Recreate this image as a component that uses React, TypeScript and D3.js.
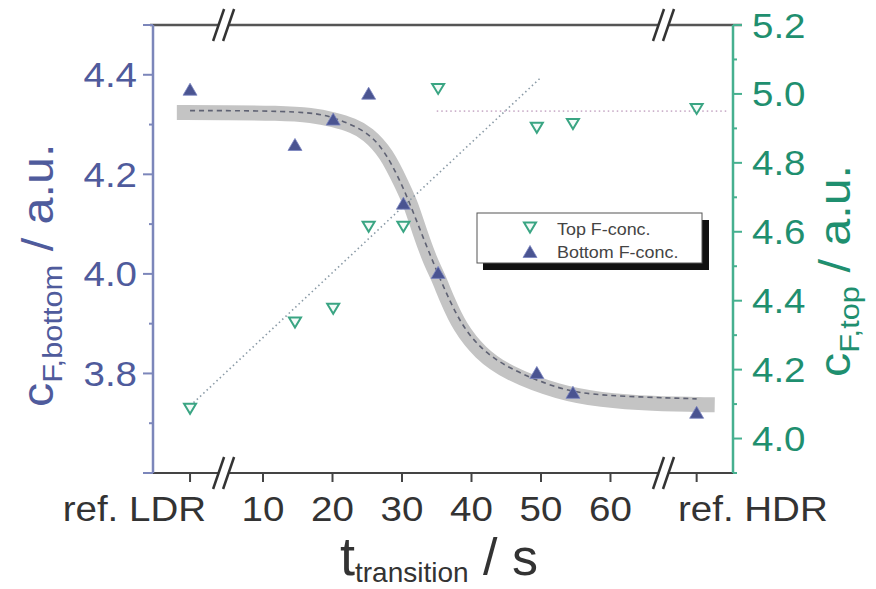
import React, { useEffect, useRef } from 'react';
import * as d3 from 'd3';

const W = 876;
const H = 589;

// reference samples sit at the two ends of the broken time axis
const refLdrT = -0.5;
const refHdrT = 72.4;
const sampleT = [refLdrT, 14.6, 20.1, 25.2, 30.2, 35.2, 49.4, 54.6, refHdrT];
const bottomConc = [4.37, 4.259, 4.31, 4.362, 4.141, 4.002, 3.801, 3.761, 3.721];
const topConc = [4.088, 4.338, 4.378, 4.616, 4.616, 5.016, 4.903, 4.914, 4.958];

const xTicks = [10, 20, 30, 40, 50, 60];
const leftTicks = [3.8, 4.0, 4.2, 4.4];
const leftMinor = [3.7, 3.9, 4.1, 4.3];
const rightTicks = [4.0, 4.2, 4.4, 4.6, 4.8, 5.0, 5.2];
const rightMinor = [3.9, 4.1, 4.3, 4.5, 4.7, 4.9, 5.1];
const breakT = [4.4, 67.7];

// thick grey sigmoid band
const bandT = [-2.4, 5, 12, 17.2, 20.1, 23.0, 25.0, 27.8, 30.1, 31.2, 32.6, 34.0, 35.2, 36.5, 38.3, 41.2, 45.1, 52.7, 58.5, 65.7, 75.0];
const bandV = [4.324, 4.324, 4.323, 4.319, 4.31, 4.298, 4.283, 4.243, 4.175, 4.143, 4.082, 4.028, 3.994, 3.948, 3.893, 3.841, 3.801, 3.761, 3.747, 3.739, 3.737];

// thin dashed fit on top of the band
const fitT = [-0.5, 8, 17.2, 20.1, 23.5, 26.8, 30.1, 32.6, 35.5, 38.3, 41.2, 45.1, 52.7, 58.5, 72.4];
const fitV = [4.328, 4.328, 4.325, 4.314, 4.296, 4.266, 4.179, 4.088, 3.988, 3.902, 3.851, 3.811, 3.767, 3.755, 3.749];

// dotted linear trend of the top concentration, and the HDR level
const trendT = [0, 49.9];
const trendV = [4.104, 5.046];
const levelT = [35.0, 76.8];
const levelV = [4.95, 4.95];

const blueText = '#4f5b9c';
const blueAxis = '#7c86ba';
const blueMark = '#4a5491';
const greenText = '#1f8f6f';
const greenAxis = '#46b08f';
const greenMark = '#3aa583';
const font = '"Liberation Sans", Arial, sans-serif';

export default function App() {
  const svgRef = useRef(null);

  useEffect(() => {
    const svg = d3.select(svgRef.current);
    svg.selectAll('*').remove();

    const x = d3.scaleLinear().domain([-5.83, 77.63]).range([153, 733]);
    const yL = d3.scaleLinear().domain([3.6, 4.5]).range([473, 25]);
    const yR = d3.scaleLinear().domain([3.9, 5.2]).range([473, 25]);
    const [top, bottom] = [yL(4.5), yL(3.6)];
    const [left, right] = x.range();

    const label = (g, tx, ty, txt, opts) => {
      const t = g.append('text')
        .attr('transform', `translate(${tx},${ty}) ${opts.rot ? 'rotate(-90)' : ''} scale(${opts.sx || 1.1},1)`)
        .attr('font-family', font)
        .attr('font-size', opts.size)
        .attr('fill', opts.color)
        .attr('text-anchor', opts.anchor || 'start');
      if (typeof txt === 'string') t.text(txt);
      else txt(t);
      return t;
    };

    // band + fit
    const bandLine = d3.line().x((d, i) => x(bandT[i])).y(d => yL(d)).curve(d3.curveBasis);
    svg.append('path').attr('d', bandLine(bandV))
      .attr('fill', 'none').attr('stroke', '#c4c4c4').attr('stroke-width', 15);
    const fitLine = d3.line().x((d, i) => x(fitT[i])).y(d => yL(d)).curve(d3.curveBasis);
    svg.append('path').attr('d', fitLine(fitV))
      .attr('fill', 'none').attr('stroke', '#5f6273').attr('stroke-width', 1.6).attr('stroke-dasharray', '5,4');

    // dotted lines on the right axis
    const rLine = d3.line().x((d, i) => x(trendT[i])).y(d => yR(d));
    svg.append('path').attr('d', rLine(trendV))
      .attr('fill', 'none').attr('stroke', '#8a9aa6').attr('stroke-width', 1.6).attr('stroke-dasharray', '1.5,3');
    const lvLine = d3.line().x((d, i) => x(levelT[i])).y(d => yR(d));
    svg.append('path').attr('d', lvLine(levelV))
      .attr('fill', 'none').attr('stroke', '#cdb3cc').attr('stroke-width', 1.6).attr('stroke-dasharray', '1.5,3');

    // markers
    const up = 'M0,-6.5L7,5.5L-7,5.5Z';
    const down = 'M-6,-4.5L6,-4.5L0,5.5Z';
    svg.append('g').selectAll('path').data(bottomConc).join('path')
      .attr('d', up)
      .attr('transform', (d, i) => `translate(${x(sampleT[i])},${yL(d)})`)
      .attr('fill', blueMark).attr('stroke', '#7a84c0').attr('stroke-width', 0.8);
    svg.append('g').selectAll('path').data(topConc).join('path')
      .attr('d', down)
      .attr('transform', (d, i) => `translate(${x(sampleT[i])},${yR(d)})`)
      .attr('fill', '#f4fbf8').attr('stroke', greenMark).attr('stroke-width', 2);

    // frame
    svg.append('line').attr('x1', left - 3).attr('x2', right + 9).attr('y1', top).attr('y2', top)
      .attr('stroke', '#555').attr('stroke-width', 2.5);
    svg.append('line').attr('x1', left).attr('x2', right).attr('y1', bottom).attr('y2', bottom)
      .attr('stroke', '#444').attr('stroke-width', 2);
    svg.append('line').attr('x1', left).attr('x2', left).attr('y1', top).attr('y2', bottom)
      .attr('stroke', blueAxis).attr('stroke-width', 2.5);
    svg.append('line').attr('x1', right).attr('x2', right).attr('y1', top).attr('y2', bottom)
      .attr('stroke', greenAxis).attr('stroke-width', 2.5);

    // left axis ticks
    const lg = svg.append('g');
    lg.selectAll('.maj').data([...leftTicks, 4.5, 3.6]).join('line')
      .attr('x1', left - 10).attr('x2', left).attr('y1', d => yL(d)).attr('y2', d => yL(d))
      .attr('stroke', blueAxis).attr('stroke-width', 2);
    lg.selectAll('.min').data(leftMinor).join('line').attr('class', 'min')
      .attr('x1', left - 4).attr('x2', left).attr('y1', d => yL(d)).attr('y2', d => yL(d))
      .attr('stroke', blueAxis).attr('stroke-width', 2);
    leftTicks.forEach(v => label(svg, 137, yL(v) + 12.5, d3.format('.1f')(v), { size: 35, color: blueText, anchor: 'end' }));

    // right axis ticks
    const rg = svg.append('g');
    rg.selectAll('.maj').data(rightTicks).join('line')
      .attr('x1', right).attr('x2', right + 9).attr('y1', d => yR(d)).attr('y2', d => yR(d))
      .attr('stroke', greenAxis).attr('stroke-width', 2);
    rg.selectAll('.min').data(rightMinor).join('line').attr('class', 'min')
      .attr('x1', right).attr('x2', right + 4).attr('y1', d => yR(d)).attr('y2', d => yR(d))
      .attr('stroke', greenAxis).attr('stroke-width', 2);
    rightTicks.forEach(v => label(svg, 752, yR(v) + 12.5, d3.format('.1f')(v), { size: 35, color: greenText }));

    // x ticks
    svg.append('g').selectAll('line').data([refLdrT, ...xTicks, refHdrT]).join('line')
      .attr('x1', d => x(d)).attr('x2', d => x(d)).attr('y1', bottom).attr('y2', bottom + 9)
      .attr('stroke', '#444').attr('stroke-width', 2);
    xTicks.forEach(v => label(svg, x(v), 521, String(v), { size: 35, color: '#333', anchor: 'middle' }));
    label(svg, 206, 521, 'ref. LDR', { size: 35, color: '#333', anchor: 'end' });
    label(svg, 678, 521, 'ref. HDR', { size: 35, color: '#333' });

    // axis breaks
    breakT.forEach(t => {
      const bx = x(t);
      [top, bottom].forEach(yc => {
        svg.append('rect').attr('x', bx - 6).attr('y', yc - 3).attr('width', 11).attr('height', 6).attr('fill', '#fff');
        [0, 1].forEach(k => {
          svg.append('line')
            .attr('x1', bx - 11 + 10 * k).attr('y1', yc + 16)
            .attr('x2', bx + 10 * k).attr('y2', yc - 16)
            .attr('stroke', '#333').attr('stroke-width', 2.5);
        });
      });
    });

    // axis titles
    svg.append('text').attr('x', 340).attr('y', 575).attr('font-family', font).attr('fill', '#333')
      .call(t => {
        t.append('tspan').attr('font-size', 54).text('t');
        t.append('tspan').attr('font-size', 28).attr('dy', 7).text('transition');
        t.append('tspan').attr('font-size', 52).attr('dy', -7).text(' / s');
      });
    label(svg, 53, 407, t => {
      t.append('tspan').text('c');
      t.append('tspan').attr('font-size', 28).attr('dy', 9).text('F,bottom');
      t.append('tspan').attr('dy', -9).text(' / a.u.');
    }, { size: 44, color: blueText, rot: true });
    label(svg, 850, 377, t => {
      t.append('tspan').text('c');
      t.append('tspan').attr('font-size', 28).attr('dy', 9).text('F,top');
      t.append('tspan').attr('dy', -9).text(' / a.u.');
    }, { size: 44, color: greenText, rot: true });

    // legend
    const leg = svg.append('g');
    leg.append('rect').attr('x', 483).attr('y', 220).attr('width', 226).attr('height', 50).attr('fill', '#111');
    leg.append('rect').attr('x', 477).attr('y', 213).attr('width', 225).attr('height', 50)
      .attr('fill', '#fff').attr('stroke', '#555').attr('stroke-width', 1);
    leg.append('path').attr('d', down).attr('transform', 'translate(530,227)')
      .attr('fill', '#f4fbf8').attr('stroke', greenMark).attr('stroke-width', 2);
    leg.append('path').attr('d', up).attr('transform', 'translate(530,252)')
      .attr('fill', blueMark).attr('stroke', '#7a84c0').attr('stroke-width', 0.8);
    label(leg, 557, 235, 'Top F-conc.', { size: 16, color: '#444', sx: 1.12 });
    label(leg, 557, 258, 'Bottom F-conc.', { size: 16, color: '#444', sx: 1.12 });
  }, []);

  return (
    <svg ref={svgRef} width={W} height={H} style={{ position: 'absolute', left: 0, top: 0, background: '#fff' }} />
  );
}
